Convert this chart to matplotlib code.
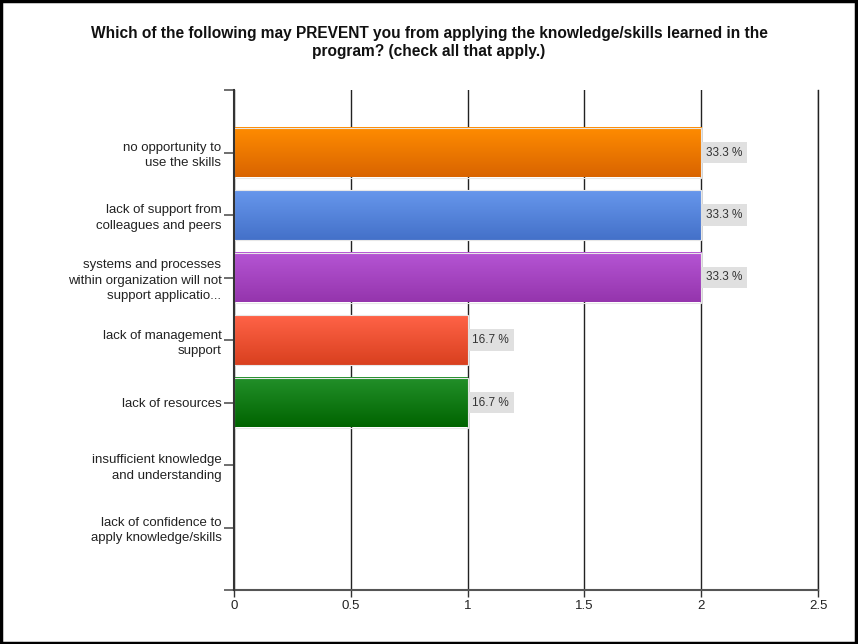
import matplotlib.pyplot as plt
import numpy as np
from matplotlib.colors import LinearSegmentedColormap
from matplotlib.patches import Rectangle

plt.rcParams['font.family'] = ['Liberation Sans', 'DejaVu Sans']

categories = [
    "no opportunity to\nuse the skills",
    "lack of support from\ncolleagues and peers",
    "systems and processes\nwithin organization will not\nsupport applicatio...",
    "lack of management\nsupport",
    "lack of resources",
    "insufficient knowledge\nand understanding",
    "lack of confidence to\napply knowledge/skills",
]
counts = [2, 2, 2, 1, 1, 0, 0]
percents = ["33.3 %", "33.3 %", "33.3 %", "16.7 %", "16.7 %", "", ""]
x_ticks = [0, 0.5, 1, 1.5, 2, 2.5]

# top / bottom colours of each bar's vertical gradient
bar_colors = [
    ("#ff8c00", "#d96400"),
    ("#6797ec", "#4471c9"),
    ("#b555d4", "#9535ad"),
    ("#ff6347", "#d9401f"),
    ("#23902a", "#006400"),
    ("#cccccc", "#aaaaaa"),
    ("#cccccc", "#aaaaaa"),
]

fig = plt.figure(figsize=(8.58, 6.44), dpi=100)
ax = fig.add_axes([234 / 858, 1 - 590 / 644, 584 / 858, 500 / 644])

ypos = np.arange(len(categories))
h = 0.8
grad = np.linspace(0, 1, 64).reshape(-1, 1)
for y, v, (c1, c2) in zip(ypos, counts, bar_colors):
    if v <= 0:
        continue
    cmap = LinearSegmentedColormap.from_list("g", [c1, c2])
    ax.imshow(grad, cmap=cmap, origin="upper", aspect="auto",
              extent=[0, v, y + h / 2, y - h / 2], zorder=3)
    ax.barh(y, v, height=h, facecolor="none", edgecolor="#e8e8e8",
            linewidth=0.8, zorder=4)

for y, v, p in zip(ypos, counts, percents):
    if not p:
        continue
    ax.text(v + 0.02, y, p, fontsize=8.5, color="#333333", va="center", ha="left",
            zorder=5,
            bbox=dict(boxstyle="square,pad=0.4", facecolor="#e0e0e0", edgecolor="none"))

ax.set_xlim(0, 2.5)
ax.set_ylim(7, -1)
ax.set_xticks(x_ticks)
ax.set_xticklabels(["0", "0.5", "1", "1.5", "2", "2.5"])
ax.set_yticks(ypos)
ax.set_yticklabels(categories, fontsize=9.5, color="#222222", linespacing=1.35)
ax.set_yticks([-1, 7], minor=True)
ax.tick_params(axis="y", which="both", length=7, width=1.2, color="#555555", pad=2)
ax.tick_params(axis="x", length=5, width=1, color="#333333", labelsize=9.5,
               labelcolor="#222222", pad=2)

ax.grid(axis="x", color="#222222", linewidth=1, zorder=0)
ax.set_axisbelow(True)
ax.spines["top"].set_visible(False)
ax.spines["right"].set_color("#222222")
ax.spines["right"].set_linewidth(1)
ax.spines["left"].set_color("#333333")
ax.spines["left"].set_linewidth(1.5)
ax.spines["left"].set_zorder(6)
ax.spines["bottom"].set_color("#555555")
ax.spines["bottom"].set_linewidth(1.5)

fig.text(0.5, 0.934, "Which of the following may PREVENT you from applying the knowledge/skills learned in the\nprogram? (check all that apply.)",
         ha="center", va="center", fontsize=11.2, fontweight="bold", color="#111111",
         linespacing=1.3)

fig.patches.append(Rectangle((0.001, 0.002), 0.997, 0.996, transform=fig.transFigure,
                             fill=False, edgecolor="black", linewidth=2.5))

fig.savefig("out.png", dpi=100)
